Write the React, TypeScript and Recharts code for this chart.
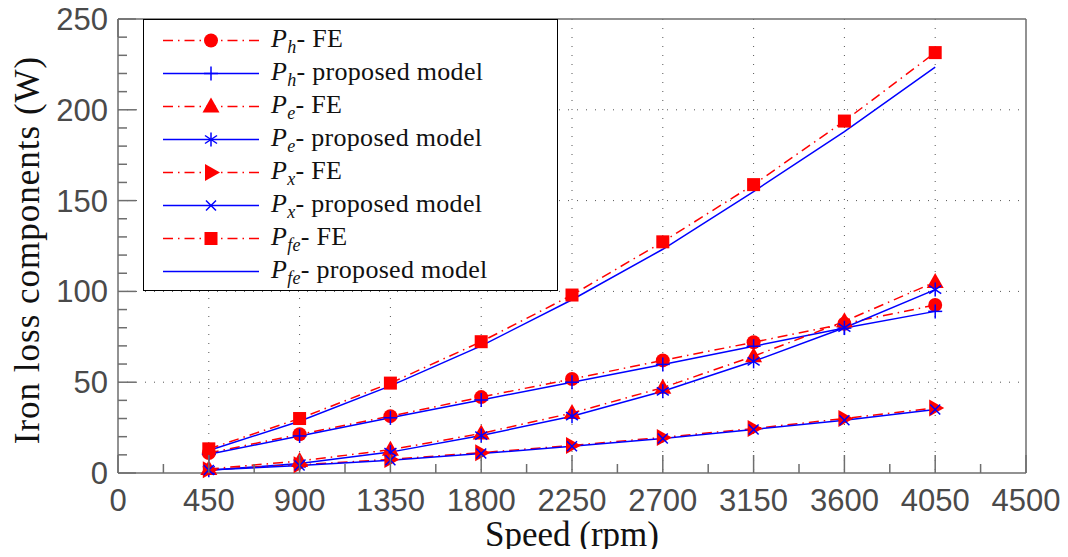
import { LineChart, Line, XAxis, YAxis, CartesianGrid, Legend } from "recharts"

// speed (rpm) and iron loss components (W)
const speeds = [450, 900, 1350, 1800, 2250, 2700, 3150, 3600, 4050]
const phFE = [11, 21.3, 31.3, 41.8, 51.8, 62, 72, 82.2, 92.5]
const phModel = [10.3, 20.4, 30.4, 40.2, 50, 59.8, 69.8, 79.8, 89]
const peFE = [2.2, 6.6, 12.8, 21.8, 33, 47, 64.3, 83.5, 105.2]
const peModel = [1.5, 5.2, 11.5, 20.6, 31.3, 45, 61.5, 80, 101]
const pxFE = [1.8, 4.5, 7.5, 11.2, 15.2, 19.6, 24.5, 30, 35.8]
const pxModel = [1.6, 4.1, 7, 10.7, 14.7, 19, 24, 29, 35]
const pfeFE = [13.3, 30, 49.5, 72.3, 98, 127.3, 158.8, 193.8, 231.5]
const pfeModel = [12.4, 28.5, 48, 70, 95.4, 123.2, 155, 188, 223.5]

const xTicks = [0, 225, 450, 675, 900, 1125, 1350, 1575, 1800, 2025, 2250, 2475, 2700, 2925, 3150, 3375, 3600, 3825, 4050, 4275, 4500]
const yTicks = [0, 10, 20, 30, 40, 50, 60, 70, 80, 90, 100, 110, 120, 130, 140, 150, 160, 170, 180, 190, 200, 210, 220, 230, 240, 250]
const xGrid = [450, 900, 1350, 1800, 2250, 2700, 3150, 3600, 4050]
const yGrid = [50, 100, 150, 200]

const RED = "#ff0000"
const BLUE = "#0000ff"
const AXIS = "#6e6e6e"
const LABEL = "#4a4a4a"
const DASHDOT = "10 5 1.5 5"

const series = [
  { key: "phFE", values: phFE, sub: "h", text: "FE", color: RED, dash: DASHDOT, marker: "circle" },
  { key: "phModel", values: phModel, sub: "h", text: "proposed model", color: BLUE, dash: undefined, marker: "plus" },
  { key: "peFE", values: peFE, sub: "e", text: "FE", color: RED, dash: DASHDOT, marker: "triangle" },
  { key: "peModel", values: peModel, sub: "e", text: "proposed model", color: BLUE, dash: undefined, marker: "star" },
  { key: "pxFE", values: pxFE, sub: "x", text: "FE", color: RED, dash: DASHDOT, marker: "right" },
  { key: "pxModel", values: pxModel, sub: "x", text: "proposed model", color: BLUE, dash: undefined, marker: "cross" },
  { key: "pfeFE", values: pfeFE, sub: "fe", text: "FE", color: RED, dash: DASHDOT, marker: "square" },
  { key: "pfeModel", values: pfeModel, sub: "fe", text: "proposed model", color: BLUE, dash: undefined, marker: "none" },
]

const data = speeds.map((s, i) => {
  const row: any = { speed: s }
  series.forEach(se => { row[se.key] = se.values[i] })
  return row
})

function Marker({ type, cx, cy, color }: { type: string, cx: number, cy: number, color: string }) {
  const sw = 1.5
  switch (type) {
    case "circle":
      return <circle cx={cx} cy={cy} r={7} fill={color} />
    case "square":
      return <rect x={cx - 6.5} y={cy - 6.5} width={13} height={13} fill={color} />
    case "triangle":
      return <polygon points={`${cx},${cy - 9} ${cx - 8.5},${cy + 6} ${cx + 8.5},${cy + 6}`} fill={color} />
    case "right":
      return <polygon points={`${cx + 9},${cy} ${cx - 6},${cy - 8.5} ${cx - 6},${cy + 8.5}`} fill={color} />
    case "plus":
      return (
        <g stroke={color} strokeWidth={sw}>
          <line x1={cx - 7} x2={cx + 7} y1={cy} y2={cy} />
          <line x1={cx} x2={cx} y1={cy - 7} y2={cy + 7} />
        </g>
      )
    case "cross":
      return (
        <g stroke={color} strokeWidth={sw}>
          <line x1={cx - 5} x2={cx + 5} y1={cy - 5} y2={cy + 5} />
          <line x1={cx - 5} x2={cx + 5} y1={cy + 5} y2={cy - 5} />
        </g>
      )
    case "star":
      return (
        <g stroke={color} strokeWidth={sw}>
          <line x1={cx} x2={cx} y1={cy - 7} y2={cy + 7} />
          <line x1={cx - 6} x2={cx + 6} y1={cy - 4} y2={cy + 4} />
          <line x1={cx - 6} x2={cx + 6} y1={cy + 4} y2={cy - 4} />
        </g>
      )
    default:
      return <g />
  }
}

function markerDot(type: string, color: string) {
  return (props: any) => {
    const { cx, cy, index } = props
    if (cx == null || cy == null) return <g key={index} />
    return <g key={index}><Marker type={type} cx={cx} cy={cy} color={color} /></g>
  }
}

const tickFont = { fontFamily: "'Liberation Sans', Arial, sans-serif", fontSize: 31, fill: LABEL }

function BottomTick({ x, y, payload }: any) {
  const major = payload.value % 450 === 0
  return (
    <g>
      <line x1={x} x2={x} y1={y} y2={y - (major ? 18 : 9)} stroke={AXIS} strokeWidth={1.5} />
      {major && <text x={x} y={y + 38} textAnchor="middle" {...tickFont}>{payload.value}</text>}
    </g>
  )
}

function TopTick({ x, y, payload }: any) {
  const major = payload.value % 450 === 0
  return <line x1={x} x2={x} y1={y} y2={y + (major ? 18 : 9)} stroke={AXIS} strokeWidth={1.5} />
}

function LeftTick({ x, y, payload }: any) {
  const major = payload.value % 50 === 0
  return (
    <g>
      <line x1={x} x2={x + (major ? 18 : 9)} y1={y} y2={y} stroke={AXIS} strokeWidth={1.5} />
      {major && <text x={x - 10} y={y + 11} textAnchor="end" {...tickFont}>{payload.value}</text>}
    </g>
  )
}

function RightTick({ x, y, payload }: any) {
  const major = payload.value % 50 === 0
  return <line x1={x} x2={x - (major ? 18 : 9)} y1={y} y2={y} stroke={AXIS} strokeWidth={1.5} />
}

const serif = "'Liberation Serif', 'DejaVu Serif', serif"

function XTitle({ viewBox }: any) {
  return (
    <text x={viewBox.x + viewBox.width / 2} y={viewBox.y + 73} textAnchor="middle"
      fontFamily={serif} fontSize={35} fill="#111">Speed (rpm)</text>
  )
}

function YTitle({ viewBox }: any) {
  const x = viewBox.x - 90
  const y = viewBox.y + viewBox.height / 2 + 4
  return (
    <text x={x} y={y} transform={`rotate(-90 ${x} ${y})`} textAnchor="middle" dominantBaseline="central"
      fontFamily={serif} fontSize={35} letterSpacing={1} fill="#111">Iron loss components (W)</text>
  )
}

function LegendBox() {
  return (
    <div style={{
      width: 415, height: 272, boxSizing: "border-box", border: "1.5px solid #000", background: "#fff",
      paddingTop: 4, fontFamily: serif, fontSize: 26, color: "#111",
    }}>
      {series.map(se => (
        <div key={se.key} style={{ height: 33, display: "flex", alignItems: "center" }}>
          <svg width={96} height={33} style={{ marginLeft: 19, flex: "none" }}>
            <line x1={0} x2={96} y1={16.5} y2={16.5} stroke={se.color} strokeWidth={1.5} strokeDasharray={se.dash} />
            <Marker type={se.marker} cx={48} cy={16.5} color={se.color} />
          </svg>
          <span style={{ marginLeft: 12, whiteSpace: "nowrap", letterSpacing: 0.3, fontFamily: serif }}>
            <i>P</i><sub style={{ fontSize: 18, fontStyle: "italic", verticalAlign: -6 }}>{se.sub}</sub>- {se.text}
          </span>
        </div>
      ))}
    </div>
  )
}

export default function App() {
  return (
    <div style={{ margin: -8, width: 1068, height: 557, background: "#fff" }}>
      <LineChart width={1068} height={557} data={data} margin={{ top: 18, right: 41, bottom: 83, left: 117 }}>
        <CartesianGrid horizontalValues={yGrid} verticalValues={xGrid} stroke="#555" strokeDasharray="1 8" />
        <XAxis dataKey="speed" type="number" domain={[0, 4500]} ticks={xTicks} interval={0} height={1}
          tickSize={0} tickMargin={0} tickLine={false} axisLine={{ stroke: AXIS, strokeWidth: 1.5 }}
          tick={<BottomTick />} label={<XTitle />} />
        <XAxis xAxisId="top" orientation="top" type="number" domain={[0, 4500]} ticks={xTicks} interval={0} height={1}
          tickSize={0} tickMargin={0} tickLine={false} axisLine={{ stroke: AXIS, strokeWidth: 1.5 }} tick={<TopTick />} />
        <YAxis type="number" domain={[0, 250]} ticks={yTicks} interval={0} width={1}
          tickSize={0} tickMargin={0} tickLine={false} axisLine={{ stroke: AXIS, strokeWidth: 1.5 }}
          tick={<LeftTick />} label={<YTitle />} />
        <YAxis yAxisId="right" orientation="right" type="number" domain={[0, 250]} ticks={yTicks} interval={0} width={1}
          tickSize={0} tickMargin={0} tickLine={false} axisLine={{ stroke: AXIS, strokeWidth: 1.5 }} tick={<RightTick />} />
        {series.map(se => (
          <Line key={se.key} dataKey={se.key} type="linear" stroke={se.color} strokeWidth={1.5}
            strokeDasharray={se.dash} dot={markerDot(se.marker, se.color)} activeDot={false}
            isAnimationActive={false} />
        ))}
        <Legend layout="vertical" align="center" verticalAlign="middle" content={<LegendBox />}
          wrapperStyle={{ left: 143, top: 19, width: 415, height: 272 }} />
      </LineChart>
    </div>
  )
}
